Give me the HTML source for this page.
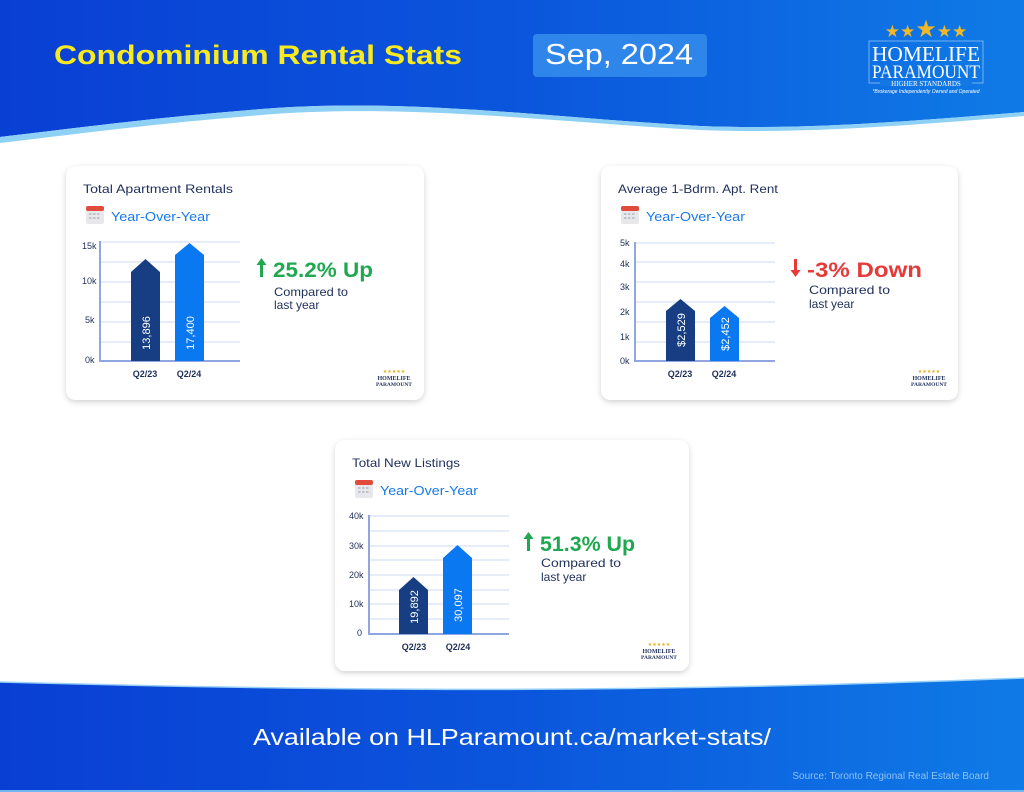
<!DOCTYPE html>
<html><head><meta charset="utf-8"><style>
html,body{margin:0;padding:0;background:#fff;}
svg{display:block;}
text{font-family:"Liberation Sans",sans-serif;}
text.serif{font-family:"Liberation Serif",serif;}
</style></head><body>
<svg width="1024" height="792" viewBox="0 0 1024 792" xmlns="http://www.w3.org/2000/svg">
<defs>
<linearGradient id="hg" x1="0" x2="1" y1="0" y2="0"><stop offset="0" stop-color="#0a3fd4"/><stop offset="0.5" stop-color="#0b55dc"/><stop offset="1" stop-color="#0f7be6"/></linearGradient>
<filter id="sh" x="-10%" y="-10%" width="120%" height="130%"><feDropShadow dx="0" dy="2" stdDeviation="3" flood-color="#000" flood-opacity="0.18"/></filter>
<g id="cal"><rect x="0" y="0" width="18" height="18" rx="2" fill="#e8e8ec"/><rect x="0" y="0" width="18" height="5" rx="2" fill="#e04b3c"/><g fill="#bfc3cc"><rect x="3" y="7" width="2.5" height="2"/><rect x="7" y="7" width="2.5" height="2"/><rect x="11" y="7" width="2.5" height="2"/><rect x="3" y="11" width="2.5" height="2"/><rect x="7" y="11" width="2.5" height="2"/><rect x="11" y="11" width="2.5" height="2"/></g></g>
<g id="mini"><rect x="0" y="0" width="32" height="22" fill="#fff"/><text x="16" y="5" font-size="5" fill="#e3b021" text-anchor="middle">★★★★★</text><text class="serif" x="16" y="12" font-size="6" font-weight="bold" fill="#1e2f5a" text-anchor="middle">HOMELIFE</text><text class="serif" x="16" y="18" font-size="5.5" font-weight="bold" fill="#1e2f5a" text-anchor="middle">PARAMOUNT</text></g>
</defs>
<!-- header -->
<path d="M0 0H1024V112C900 122 800 130 700 126C550 118 400 96 250 110C150 118 60 130 0 137Z" fill="url(#hg)"/>
<path d="M0 137C60 130 150 118 250 110C400 96 550 118 700 126C800 130 900 122 1024 112V116C900 126 800 134 700 130C550 122 400 102 250 116C150 124 60 136 0 143Z" fill="#8fd0f5"/>
<text x="54" y="64" font-size="27" font-weight="bold" fill="#f7ea1f" textLength="408" lengthAdjust="spacingAndGlyphs">Condominium Rental Stats</text>
<rect x="533" y="34" width="174" height="43" rx="4" fill="#2f86ea"/>
<text x="545" y="64" font-size="29" fill="#fff" textLength="148" lengthAdjust="spacingAndGlyphs">Sep, 2024</text>
<text x="926" y="37" font-size="17" fill="#f0b829" text-anchor="middle">★★<tspan font-size="24">★</tspan>★★</text>
<rect x="869" y="41" width="114" height="42" fill="none" stroke="#8cc2f2" stroke-width="0.8"/>
<text class="serif" x="926" y="61" font-size="21" fill="#fff" text-anchor="middle" textLength="108" lengthAdjust="spacingAndGlyphs">HOMELIFE</text>
<text class="serif" x="926" y="78" font-size="19" fill="#fff" text-anchor="middle" textLength="108" lengthAdjust="spacingAndGlyphs">PARAMOUNT</text>
<rect x="880" y="80" width="92" height="6" fill="#1378e4"/>
<text class="serif" x="926" y="86" font-size="7" fill="#fff" text-anchor="middle">HIGHER STANDARDS</text>
<text x="926" y="93" font-size="5" font-style="italic" fill="#fff" text-anchor="middle">*Brokerage Independently Owned and Operated</text>

<!-- footer -->
<path d="M0 682C300 690 600 695 1024 678V792H0Z" fill="url(#hg)"/>
<path d="M0 682C300 690 600 695 1024 678" fill="none" stroke="#9ad2f7" stroke-width="1.5"/>
<rect x="0" y="790" width="1024" height="2" fill="#6fb6f2"/>
<text x="253" y="745" font-size="23" fill="#fff" textLength="518" lengthAdjust="spacingAndGlyphs">Available on HLParamount.ca/market-stats/</text>
<text x="989" y="779" font-size="10" fill="#8cc2f2" text-anchor="end">Source: Toronto Regional Real Estate Board</text>

<!-- card 1 -->
<g>
<rect x="66" y="166" width="358" height="234" rx="10" fill="#fff" filter="url(#sh)"/>
<text x="83" y="193" font-size="12" fill="#1e2f5a" textLength="150" lengthAdjust="spacingAndGlyphs">Total Apartment Rentals</text>
<use href="#cal" x="86" y="206"/>
<text x="111" y="221" font-size="13" fill="#1a7ae8" textLength="99" lengthAdjust="spacingAndGlyphs">Year-Over-Year</text>
<g stroke="#cdd9f5" stroke-width="1"><line x1="100" x2="240" y1="242" y2="242"/><line x1="100" x2="240" y1="262" y2="262"/><line x1="100" x2="240" y1="282" y2="282"/><line x1="100" x2="240" y1="302" y2="302"/><line x1="100" x2="240" y1="322" y2="322"/><line x1="100" x2="240" y1="342" y2="342"/></g>
<path d="M100 241V361H240" fill="none" stroke="#8fa6e0" stroke-width="2"/>
<g font-size="9" fill="#1e2f5a"><text x="82" y="249">15k</text><text x="82" y="284">10k</text><text x="85" y="323">5k</text><text x="85" y="363">0k</text></g>
<path d="M131 361V272L145.5 259L160 272V361Z" fill="#173d83"/>
<path d="M175 361V255L189.5 243L204 255V361Z" fill="#0a78f0"/>
<text transform="translate(150,333) rotate(-90)" font-size="11" fill="#fff" text-anchor="middle">13,896</text>
<text transform="translate(194,333) rotate(-90)" font-size="11" fill="#fff" text-anchor="middle">17,400</text>
<g font-size="9" fill="#1e2f5a" font-weight="bold"><text x="145" y="377" text-anchor="middle">Q2/23</text><text x="189" y="377" text-anchor="middle">Q2/24</text></g>
<path d="M260 277V265H256.5L261.5 258L266.5 265H263V277Z" fill="#1fa84f"/>
<text x="273" y="277" font-size="21" font-weight="bold" fill="#1fa84f" textLength="100" lengthAdjust="spacingAndGlyphs">25.2% Up</text>
<text x="274" y="296" font-size="12" fill="#1e2f5a" textLength="74" lengthAdjust="spacingAndGlyphs">Compared to</text>
<text x="274" y="309" font-size="12" fill="#1e2f5a">last year</text>
<use href="#mini" x="378" y="368"/>
</g>

<!-- card 2 -->
<g>
<rect x="601" y="166" width="357" height="234" rx="10" fill="#fff" filter="url(#sh)"/>
<text x="618" y="193" font-size="12" fill="#1e2f5a" textLength="160" lengthAdjust="spacingAndGlyphs">Average 1-Bdrm. Apt. Rent</text>
<use href="#cal" x="621" y="206"/>
<text x="646" y="221" font-size="13" fill="#1a7ae8" textLength="99" lengthAdjust="spacingAndGlyphs">Year-Over-Year</text>
<g stroke="#cdd9f5" stroke-width="1"><line x1="635" x2="775" y1="243" y2="243"/><line x1="635" x2="775" y1="262" y2="262"/><line x1="635" x2="775" y1="282" y2="282"/><line x1="635" x2="775" y1="302" y2="302"/><line x1="635" x2="775" y1="322" y2="322"/><line x1="635" x2="775" y1="342" y2="342"/></g>
<path d="M635 242V361H775" fill="none" stroke="#8fa6e0" stroke-width="2"/>
<g font-size="9" fill="#1e2f5a"><text x="620" y="246">5k</text><text x="620" y="267">4k</text><text x="620" y="290">3k</text><text x="620" y="315">2k</text><text x="620" y="340">1k</text><text x="620" y="364">0k</text></g>
<path d="M666 361V311L680.5 299L695 311V361Z" fill="#173d83"/>
<path d="M710 361V318L724.5 306L739 318V361Z" fill="#0a78f0"/>
<text transform="translate(685,330) rotate(-90)" font-size="11" fill="#fff" text-anchor="middle">$2,529</text>
<text transform="translate(729,334) rotate(-90)" font-size="11" fill="#fff" text-anchor="middle">$2,452</text>
<g font-size="9" fill="#1e2f5a" font-weight="bold"><text x="680" y="377" text-anchor="middle">Q2/23</text><text x="724" y="377" text-anchor="middle">Q2/24</text></g>
<path d="M794 259V270H790.5L795.5 277L800.5 270H797V259Z" fill="#e5393a"/>
<text x="807" y="277" font-size="21" font-weight="bold" fill="#e5393a" textLength="115" lengthAdjust="spacingAndGlyphs">-3% Down</text>
<text x="809" y="294" font-size="12" fill="#1e2f5a" textLength="81" lengthAdjust="spacingAndGlyphs">Compared to</text>
<text x="809" y="308" font-size="12" fill="#1e2f5a">last year</text>
<use href="#mini" x="913" y="368"/>
</g>

<!-- card 3 -->
<g>
<rect x="335" y="440" width="354" height="231" rx="10" fill="#fff" filter="url(#sh)"/>
<text x="352" y="467" font-size="12" fill="#1e2f5a" textLength="108" lengthAdjust="spacingAndGlyphs">Total New Listings</text>
<use href="#cal" x="355" y="480"/>
<text x="380" y="495" font-size="13" fill="#1a7ae8" textLength="98" lengthAdjust="spacingAndGlyphs">Year-Over-Year</text>
<g stroke="#cdd9f5" stroke-width="1"><line x1="369" x2="509" y1="516" y2="516"/><line x1="369" x2="509" y1="531" y2="531"/><line x1="369" x2="509" y1="546" y2="546"/><line x1="369" x2="509" y1="560" y2="560"/><line x1="369" x2="509" y1="575" y2="575"/><line x1="369" x2="509" y1="590" y2="590"/><line x1="369" x2="509" y1="604" y2="604"/><line x1="369" x2="509" y1="619" y2="619"/></g>
<path d="M369 515V634H509" fill="none" stroke="#8fa6e0" stroke-width="2"/>
<g font-size="9" fill="#1e2f5a"><text x="349" y="519">40k</text><text x="349" y="549">30k</text><text x="349" y="578">20k</text><text x="349" y="607">10k</text><text x="357" y="636">0</text></g>
<path d="M399 634V590L413.5 577L428 590V634Z" fill="#173d83"/>
<path d="M443 634V558L457.5 545L472 558V634Z" fill="#0a78f0"/>
<text transform="translate(418,607) rotate(-90)" font-size="11" fill="#fff" text-anchor="middle">19,892</text>
<text transform="translate(462,605) rotate(-90)" font-size="11" fill="#fff" text-anchor="middle">30,097</text>
<g font-size="9" fill="#1e2f5a" font-weight="bold"><text x="414" y="650" text-anchor="middle">Q2/23</text><text x="458" y="650" text-anchor="middle">Q2/24</text></g>
<path d="M527 551V539H523.5L528.5 532L533.5 539H530V551Z" fill="#1fa84f"/>
<text x="540" y="551" font-size="21" font-weight="bold" fill="#1fa84f" textLength="95" lengthAdjust="spacingAndGlyphs">51.3% Up</text>
<text x="541" y="567" font-size="12" fill="#1e2f5a" textLength="80" lengthAdjust="spacingAndGlyphs">Compared to</text>
<text x="541" y="581" font-size="12" fill="#1e2f5a">last year</text>
<use href="#mini" x="643" y="641"/>
</g>
</svg>
</body></html>
